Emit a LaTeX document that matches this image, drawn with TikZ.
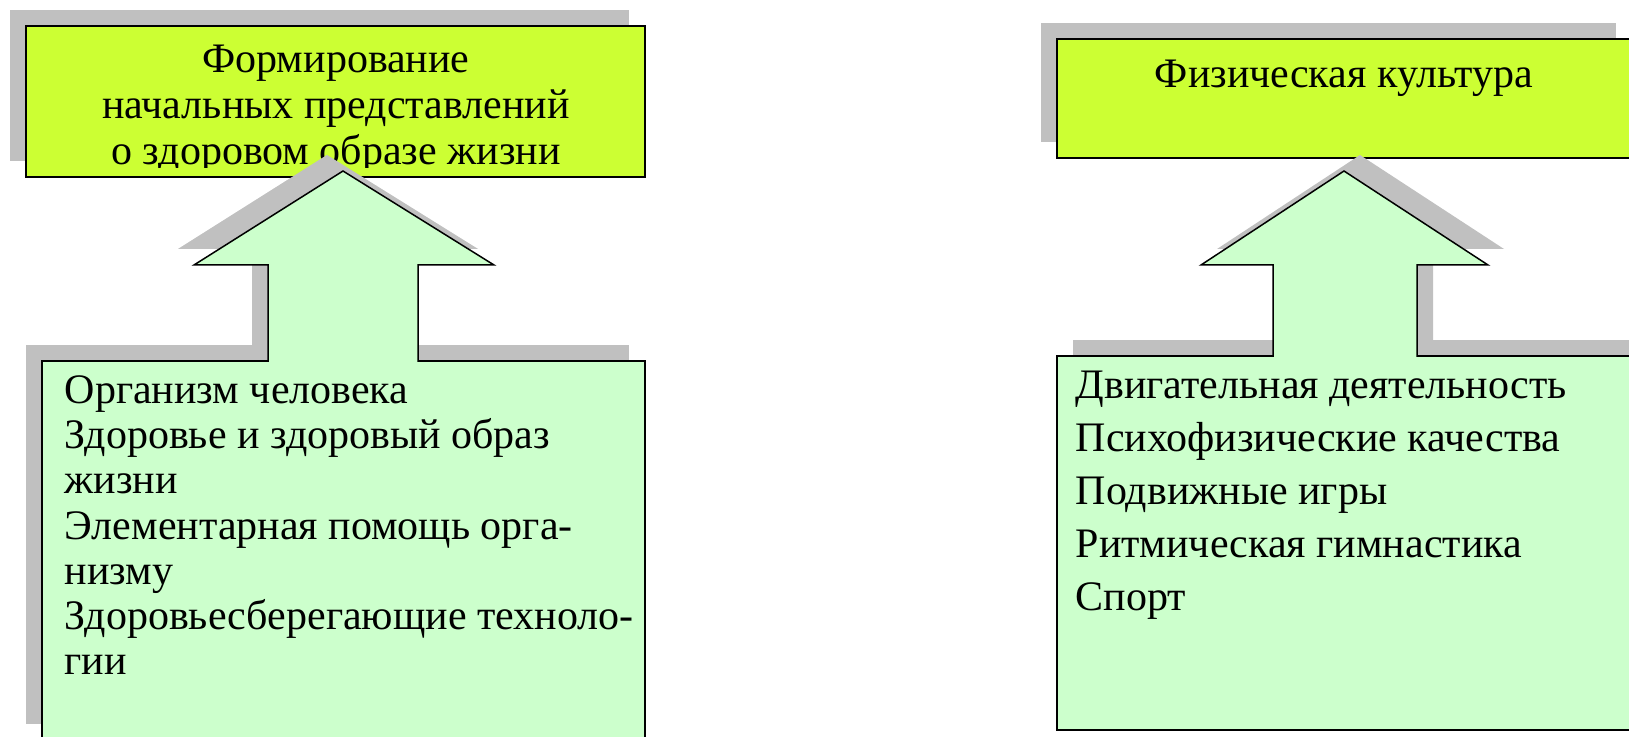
\documentclass[tikz,border=0pt]{standalone}
\usepackage{fontspec}
\setmainfont{Liberation Serif}
\definecolor{topfill}{HTML}{CCFF33}
\definecolor{boxfill}{HTML}{CCFFCC}
\definecolor{shadegray}{HTML}{C0C0C0}

\begin{document}
\begin{tikzpicture}[x=0.5pt,y=-0.5pt,line width=0.75pt,
    headbox/.style={fill=topfill,draw=black},
    listbox/.style={fill=boxfill,draw=black},
    shadowfill/.style={fill=shadegray},
    headtext/.style={align=center,inner sep=0pt,font=\fontsize{21}{23}\selectfont},
    listtext/.style={anchor=north west,align=left,inner sep=0pt}]
    \useasboundingbox (0,0) rectangle (1629,737);

    % left column
    \fill[shadowfill] (10,10) rectangle (629,161);
    \filldraw[headbox] (26,26) rectangle (645,177);
    \begin{scope}
        \clip (26,26) rectangle (645,168);
        \node[headtext,anchor=north] (health) at (336,44)
            {Формирование\\начальных представлений\\о здоровом образе жизни};
    \end{scope}
    \fill[shadowfill,fill opacity=0.45,shift={(-16,-16)}] (268,361) -- (268,265) -- (194,265) -- (343,171) -- (494,265) -- (418,265) -- (418,361) -- cycle;
    \fill[shadowfill] (26,345) rectangle (629,724);
    \fill[shadowfill,shift={(-16,-16)}] (268,361) -- (268,265) -- (194,265) -- (343,171) -- (494,265) -- (418,265) -- (418,361) -- cycle;
    \filldraw[listbox] (42,361) rectangle (645,740);
    \fill[boxfill] (268,363) -- (268,265) -- (194,265) -- (343,171) -- (494,265) -- (418,265) -- (418,363) -- cycle;
    \draw (268,362) -- (268,265) -- (194,265) -- (343,171) -- (494,265) -- (418,265) -- (418,362);
    \node[listtext,font=\fontsize{21}{22.6}\selectfont] (topics) at (64,375)
        {Организм человека\\Здоровье и здоровый образ\\жизни\\Элементарная помощь орга-\\низму\\Здоровьесберегающие техноло-\\гии};

    % right column
    \fill[shadowfill] (1041,23) rectangle (1616,142);
    \filldraw[headbox] (1057,39) rectangle (1640,158);
    \node[headtext,anchor=base] (sport) at (1344,88) {Физическая культура};
    \fill[shadowfill,shift={(16,-16)}] (1273,356) -- (1273,265) -- (1201,265) -- (1344,171) -- (1488,265) -- (1417,265) -- (1417,356) -- cycle;
    \fill[shadowfill] (1073,340) rectangle (1650,714);
    \filldraw[listbox] (1057,356) rectangle (1640,730);
    \fill[boxfill] (1273,358) -- (1273,265) -- (1201,265) -- (1344,171) -- (1488,265) -- (1417,265) -- (1417,358) -- cycle;
    \draw (1273,357) -- (1273,265) -- (1201,265) -- (1344,171) -- (1488,265) -- (1417,265) -- (1417,357);
    \node[listtext,font=\fontsize{21}{26.5}\selectfont] (motion) at (1075,370)
        {Двигательная деятельность\\Психофизические качества\\Подвижные игры\\Ритмическая гимнастика\\Спорт};
\end{tikzpicture}
\end{document}
